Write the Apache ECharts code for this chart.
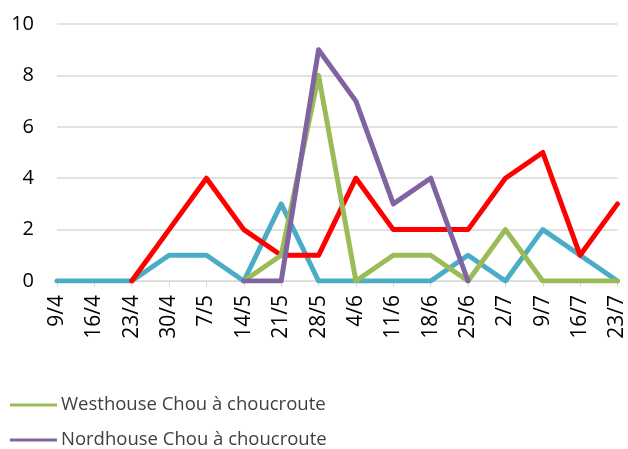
<!DOCTYPE html>
<html>
<head>
<meta charset="utf-8">
<script src="https://cdn.jsdelivr.net/npm/echarts@6/dist/echarts.min.js"></script>
<style>
  html, body { margin: 0; padding: 0; background: #fff; }
  #chart { width: 628px; height: 449px; }
</style>
</head>
<body>
<div id="chart"></div>
<script>
// weeks
const weeks = ["9/4", "16/4", "23/4", "30/4", "7/5", "14/5", "21/5", "28/5", "4/6", "11/6", "18/6", "25/6", "2/7", "9/7", "16/7", "23/7"];

const teal = [0, 0, 0, 1, 1, 0, 3, 0, 0, 0, 0, 1, 0, 2, 1, 0];
const red = [null, null, 0, 2, 4, 2, 1, 1, 4, 2, 2, 2, 4, 5, 1, 3];
const westhouse = [null, null, null, null, null, 0, 1, 8, 0, 1, 1, 0, 2, 0, 0, 0];
const nordhouse = [null, null, null, null, null, 0, 0, 9, 7, 3, 4, 0, null, null, null, null];

const font = "'Open Sans', 'Noto Sans', sans-serif";

function line(name, data, color) {
  return {
    name: name,
    type: "line",
    data: data,
    symbol: "none",
    connectNulls: false,
    lineStyle: { color: color, width: 5, cap: "round", join: "round" },
    itemStyle: { color: color },
  };
}

const chart = echarts.init(document.getElementById("chart"));
chart.setOption({
  animation: false,
  grid: { left: 57, right: 8, top: 24, bottom: 168, containLabel: false },
  legend: {
    data: ["Westhouse Chou à choucroute", "Nordhouse Chou à choucroute"],
    orient: "vertical",
    left: 10,
    top: 394,
    width: 400,
    height: 80,
    padding: 0,
    icon: "rect",
    itemWidth: 47,
    itemHeight: 3,
    itemGap: 13,
    textStyle: { fontFamily: font, fontSize: 18.5, lineHeight: 22, color: "#404040", padding: [0, 0, 0, -1] },
  },
  xAxis: {
    type: "category",
    data: weeks,
    boundaryGap: false,
    axisLine: { lineStyle: { color: "#d9d9d9", width: 1 } },
    axisTick: { show: true, length: 6, lineStyle: { color: "#d9d9d9" } },
    axisLabel: { rotate: 90, margin: 14, fontFamily: font, fontSize: 21, color: "#000", interval: 0 },
  },
  yAxis: {
    type: "value",
    min: 0,
    max: 10,
    interval: 2,
    axisLine: { show: false },
    axisTick: { show: false },
    axisLabel: { margin: 23, fontFamily: font, fontSize: 20, color: "#000" },
    splitLine: { lineStyle: { color: "#d9d9d9", width: 1.5 } },
  },
  series: [
    line("Série 1", teal, "#4bacc6"),
    line("Série 2", red, "#ff0000"),
    line("Westhouse Chou à choucroute", westhouse, "#9bbb59"),
    line("Nordhouse Chou à choucroute", nordhouse, "#8064a2"),
  ],
});
</script>
</body>
</html>
